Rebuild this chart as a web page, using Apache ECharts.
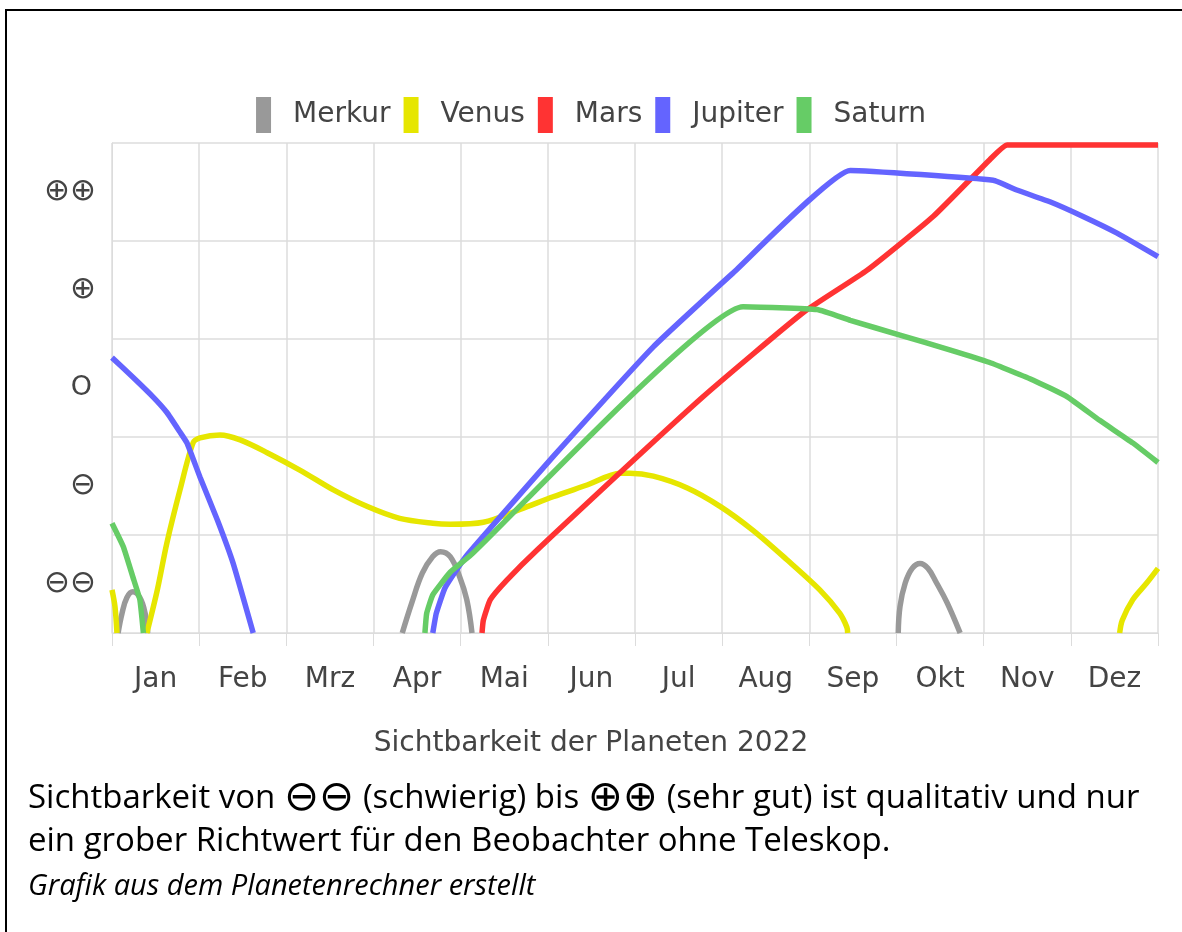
<!DOCTYPE html>
<html>
<head>
    <meta charset="UTF-8">
    <title>Sichtbarkeit der Planeten 2022</title>
    <script src="https://cdn.jsdelivr.net/npm/echarts@6/dist/echarts.min.js"></script>
    <style>
        html, body { margin: 0; padding: 0; background: #fff; }
        #frame { position: absolute; left: 5px; top: 9px; width: 1177px; height: 923px;
                 border-left: 2px solid #000; border-top: 2px solid #000; box-sizing: border-box; }
        #chart { position: absolute; left: 0; top: 0; width: 1182px; height: 932px; }
    </style>
</head>
<body>
<div id="frame"></div>
<div id="chart"></div>
<script type="text/javascript">
// x in Monaten ab 1. Jan (0..12), y in Sichtbarkeitsstufen (0..5)
var months = ['Jan', 'Feb', 'Mrz', 'Apr', 'Mai', 'Jun', 'Jul', 'Aug', 'Sep', 'Okt', 'Nov', 'Dez'];
var levels = ['⊖⊖', '⊖', 'O', '⊕', '⊕⊕'];
var GAP = ['-', '-'];

var merkur = [
    [0.07, 0], [0.115, 0.2], [0.17, 0.36], [0.24, 0.42], [0.32, 0.36], [0.38, 0.2], [0.41, 0],
    GAP,
    [3.33, 0], [3.44, 0.31], [3.56, 0.61], [3.68, 0.78], [3.77, 0.83], [3.88, 0.78], [3.99, 0.57], [4.07, 0.34], [4.13, 0],
    GAP,
    [9.02, 0], [9.04, 0.27], [9.10, 0.51], [9.18, 0.66], [9.27, 0.71], [9.36, 0.66], [9.46, 0.51], [9.58, 0.31], [9.73, 0]
];
var venus = [
    [0, 0.44], [0.034, 0.27], [0.057, 0],
    GAP,
    [0.40, 0], [0.52, 0.44], [0.63, 0.92], [0.78, 1.46], [0.93, 1.94], [1.01, 1.99], [1.24, 2.02],
    [1.47, 1.97], [1.78, 1.84], [2.16, 1.66], [2.54, 1.46], [2.93, 1.29], [3.30, 1.17], [3.68, 1.12],
    [3.88, 1.11], [4.26, 1.13], [4.68, 1.26], [5.06, 1.39], [5.45, 1.51], [5.83, 1.63], [5.94, 1.63],
    [6.21, 1.60], [6.60, 1.48], [6.98, 1.29], [7.35, 1.05], [7.74, 0.75], [8.12, 0.44], [8.35, 0.2],
    [8.43, 0.06], [8.44, 0],
    GAP,
    [11.56, 0], [11.59, 0.13], [11.71, 0.34], [11.87, 0.51], [12, 0.66]
];
var mars = [
    [4.245, 0], [4.26, 0.13], [4.34, 0.34], [4.53, 0.54], [4.88, 0.85], [6.78, 2.41], [7.93, 3.27],
    [8.66, 3.70], [9.42, 4.25], [10.07, 4.83], [10.27, 4.98], [12, 4.98]
];
var jupiter = [
    [0, 2.81], [0.24, 2.61], [0.47, 2.41], [0.63, 2.25], [0.78, 2.05], [0.86, 1.94], [1.01, 1.59],
    [1.21, 1.15], [1.39, 0.71], [1.62, 0],
    GAP,
    [3.68, 0], [3.72, 0.2], [3.82, 0.46], [4.05, 0.77], [4.34, 1.07], [5.06, 1.80], [6.21, 2.92],
    [7.12, 3.67], [8.47, 4.72], [10.11, 4.62], [10.38, 4.52], [10.76, 4.40], [11.14, 4.25],
    [11.53, 4.08], [12, 3.84]
];
var saturn = [
    [0, 1.12], [0.13, 0.88], [0.24, 0.57], [0.32, 0.34], [0.36, 0],
    GAP,
    [3.59, 0], [3.61, 0.2], [3.68, 0.39], [3.88, 0.62], [4.11, 0.79], [7.24, 3.33], [8.09, 3.30],
    [8.47, 3.19], [9.04, 3.04], [9.61, 2.89], [10.07, 2.76], [10.57, 2.58], [10.96, 2.41],
    [11.33, 2.17], [11.71, 1.94], [12, 1.74]
];

var myChart = echarts.init(document.getElementById('chart'));
var font = 'DejaVu Sans';
var gridColor = '#dcdcdc';

function planet(name, color, data, smooth) {
    return {
        name: name,
        type: 'line',
        xAxisIndex: 0,
        yAxisIndex: 0,
        data: data,
        showSymbol: false,
        smooth: smooth,
        lineStyle: { width: 5.5, color: color },
        itemStyle: { color: color }
    };
}

// groessere Symbole im Begleittext
var captionRich = {
    t: { fontFamily: 'Open Sans', fontSize: 33, fill: '#000', verticalAlign: 'middle' },
    s: { fontFamily: 'DejaVu Sans', fontSize: 42, fill: '#000', verticalAlign: 'middle' }
};

var option = {
    animation: false,
    legend: {
        top: 92,
        left: 'center',
        icon: 'rect',
        itemWidth: 15,
        itemHeight: 36,
        itemGap: 13,
        textStyle: { fontFamily: font, fontSize: 28, color: '#444', padding: [0, 0, 0, 17] },
        data: ['Merkur', 'Venus', 'Mars', 'Jupiter', 'Saturn']
    },
    grid: { left: 112, right: 24, top: 143, bottom: 299 },
    xAxis: [
        {
            type: 'value', min: 0, max: 12, interval: 1,
            axisLine: { show: true, lineStyle: { color: gridColor } },
            axisTick: { show: true, length: 13, lineStyle: { color: gridColor } },
            axisLabel: { show: false },
            splitLine: { show: true, lineStyle: { color: gridColor, width: 1.5 } }
        },
        {
            type: 'value', min: 0, max: 12, interval: 0.5, position: 'bottom',
            axisLine: { show: false }, axisTick: { show: false }, splitLine: { show: false },
            axisLabel: {
                margin: 33, fontFamily: font, fontSize: 28, color: '#444',
                formatter: function (v) { return (v % 1 === 0.5) ? months[Math.floor(v)] : ''; }
            }
        }
    ],
    yAxis: [
        {
            type: 'value', min: 0, max: 5, interval: 1,
            axisLine: { show: true, lineStyle: { color: gridColor } },
            axisTick: { show: false },
            axisLabel: { show: false },
            splitLine: { show: true, lineStyle: { color: gridColor, width: 1.5 } }
        },
        {
            type: 'value', min: 0, max: 5, interval: 0.5, position: 'left',
            axisLine: { show: false }, axisTick: { show: false }, splitLine: { show: false },
            axisLabel: {
                margin: 16, fontFamily: font, fontSize: 31, color: '#444',
                rich: { o: { fontFamily: font, fontSize: 27, color: '#444', padding: [0, 4, 0, 0] } },
                formatter: function (v) {
                    if (v % 1 !== 0.5) return '';
                    var t = levels[Math.floor(v)];
                    return t === 'O' ? '{o|O}' : t;
                }
            }
        }
    ],
    graphic: [
        { type: 'text', left: 'center', top: 730,
          style: { text: 'Sichtbarkeit der Planeten 2022', font: '28px "DejaVu Sans"', fill: '#444' } },
        { type: 'text', left: 28, top: 778,
          style: { text: '{t|Sichtbarkeit von }{s|⊖⊖}{t| (schwierig) bis }{s|⊕⊕}{t| (sehr gut) ist qualitativ und nur}',
                   font: '33px "Open Sans"', fill: '#000', rich: captionRich } },
        { type: 'text', left: 28, top: 825,
          style: { text: 'ein grober Richtwert für den Beobachter ohne Teleskop.',
                   font: '33px "Open Sans"', fill: '#000' } },
        { type: 'text', left: 28, top: 872,
          style: { text: 'Grafik aus dem Planetenrechner erstellt',
                   font: 'italic 29px "Open Sans"', fill: '#000' } }
    ],
    series: [
        planet('Merkur', '#999999', merkur, 0.4),
        planet('Venus', '#e6e600', venus, 0.3),
        planet('Mars', '#ff3333', mars, 0.15),
        planet('Jupiter', '#6464ff', jupiter, 0.12),
        planet('Saturn', '#66cc66', saturn, 0.12)
    ]
};
myChart.setOption(option);
</script>
</body>
</html>
